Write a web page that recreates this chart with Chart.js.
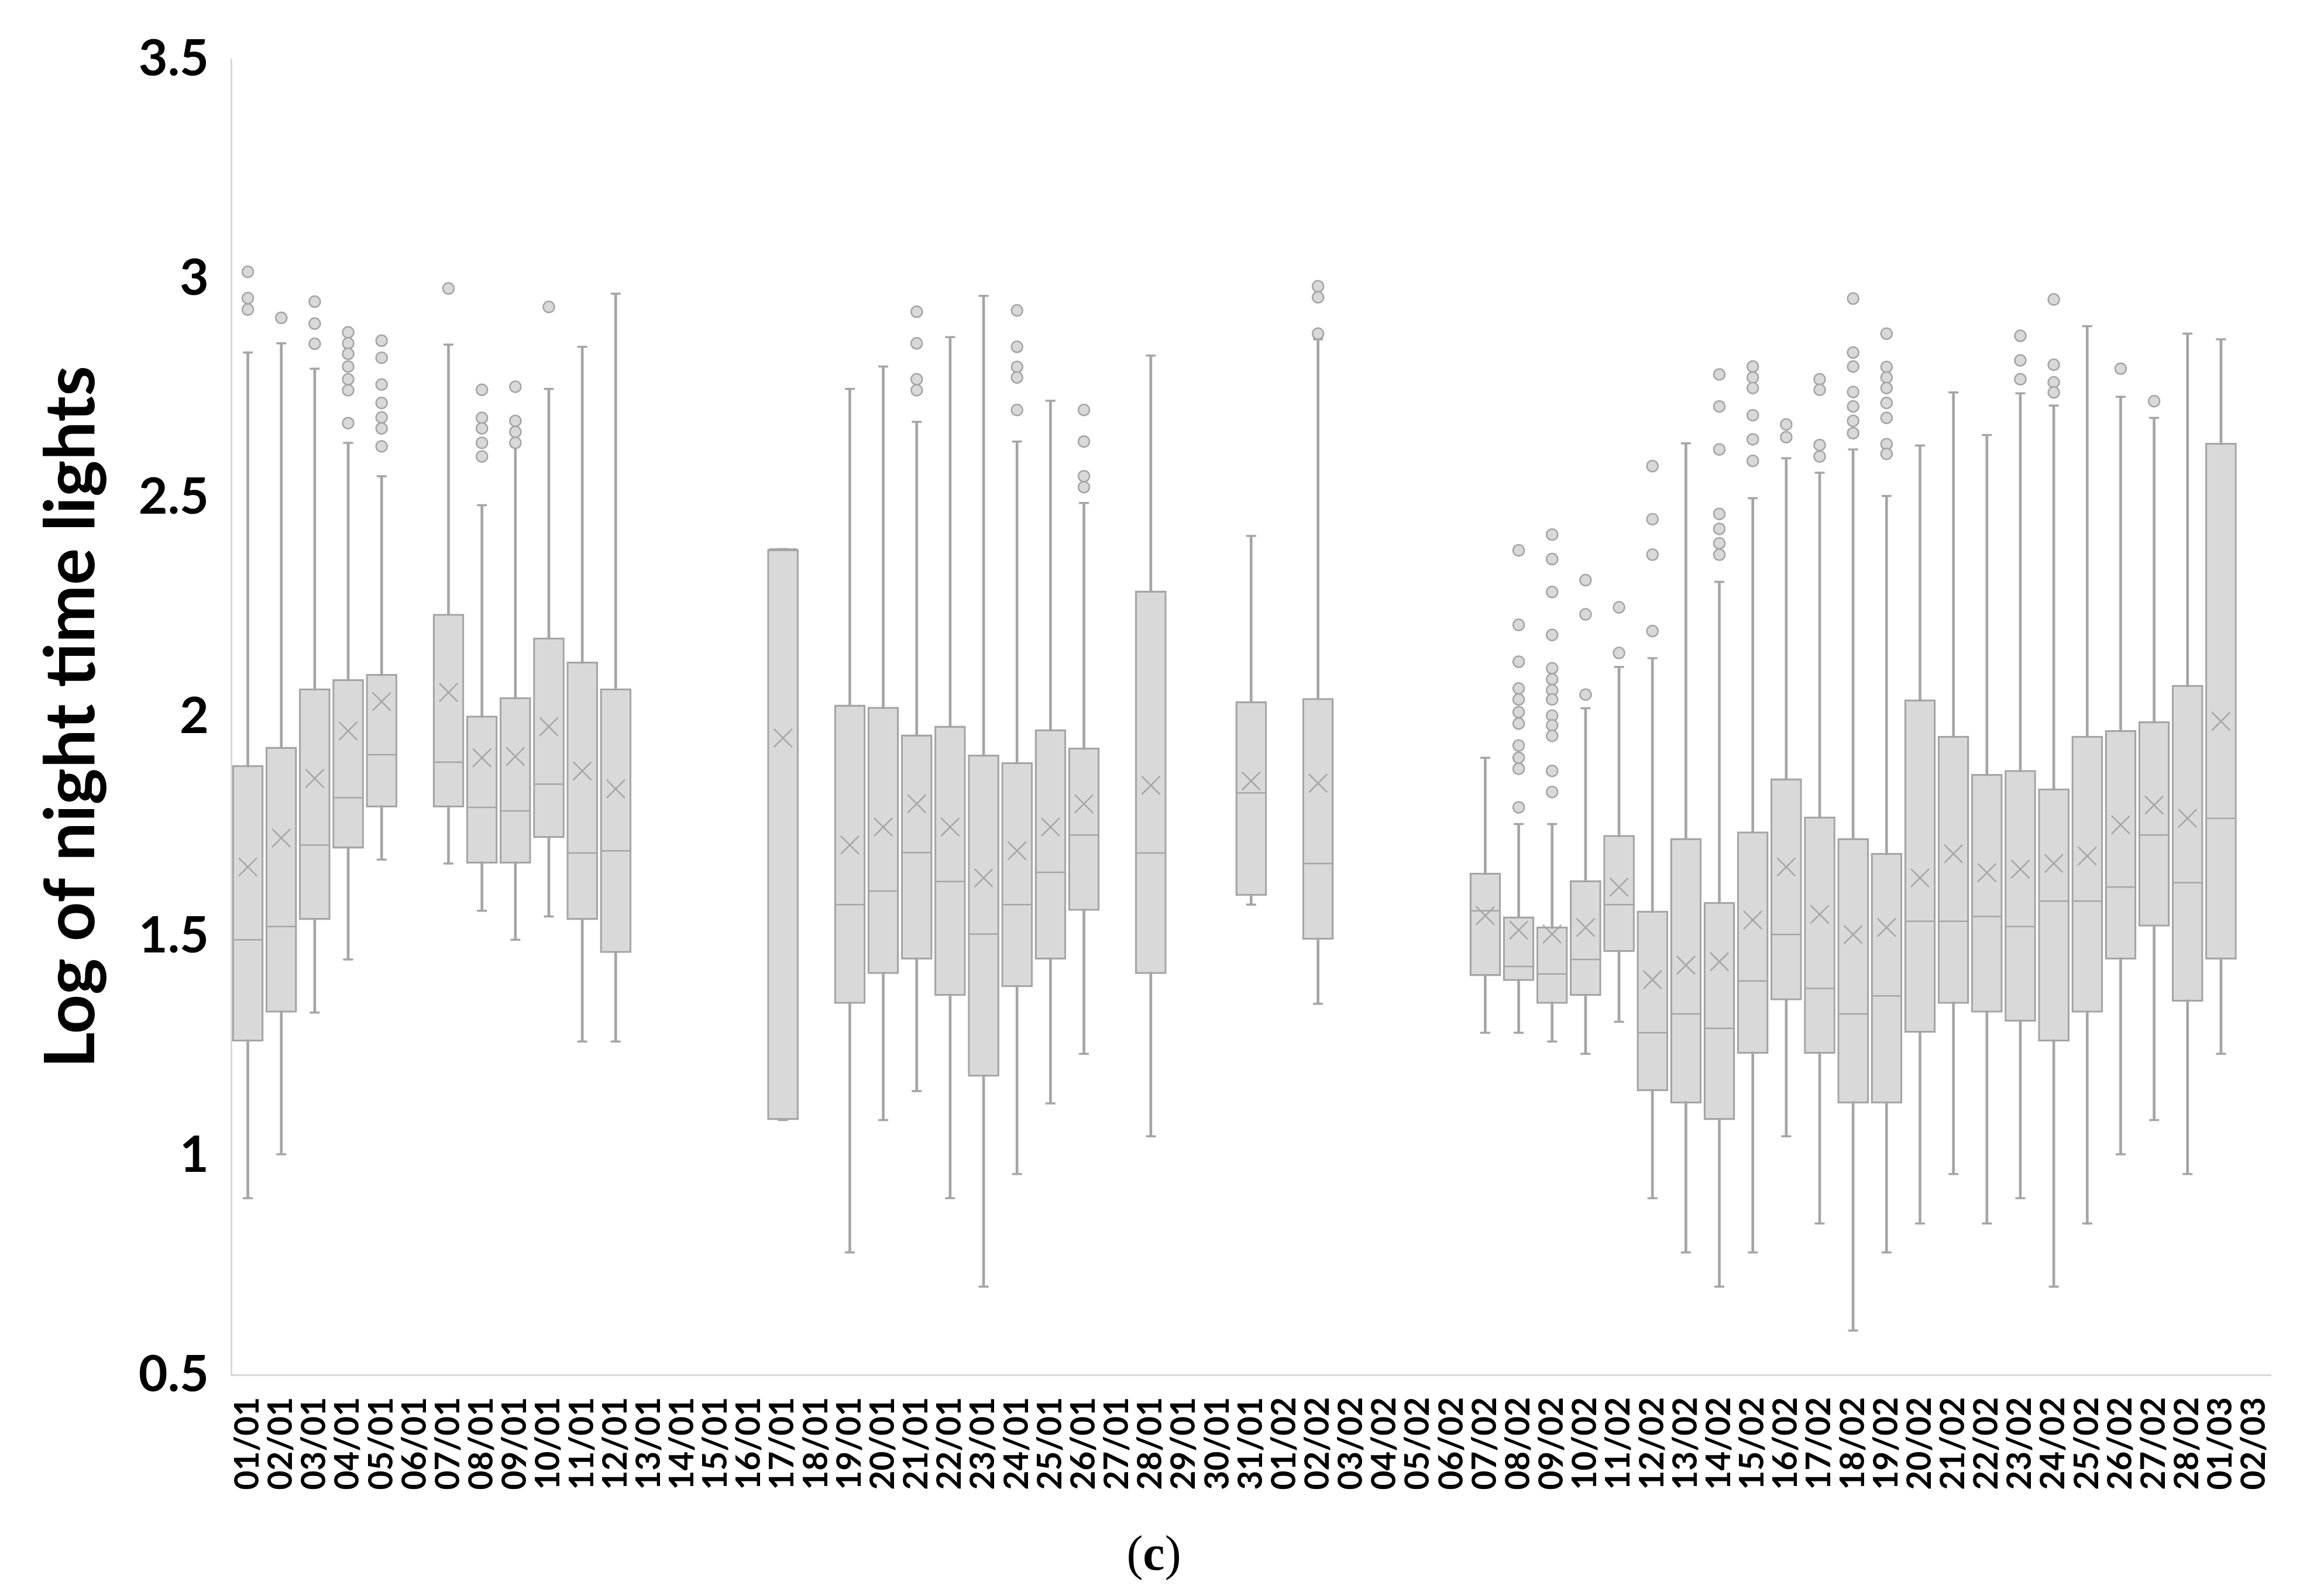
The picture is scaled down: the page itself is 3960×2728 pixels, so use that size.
<!DOCTYPE html>
<html>
<head>
<meta charset="utf-8">
<script src="https://cdn.jsdelivr.net/npm/chart.js@4.4.1/dist/chart.umd.min.js"></script>
<style>
    html, body { margin: 0; padding: 0; background: #fff; }
</style>
</head>
<body>
<canvas id="chartLuces" width="3960" height="2728"></canvas>
<script>
// dias: 01/01 .. 02/03
const dias = [
    "01/01","02/01","03/01","04/01","05/01","06/01","07/01","08/01","09/01","10/01",
    "11/01","12/01","13/01","14/01","15/01","16/01","17/01","18/01","19/01","20/01",
    "21/01","22/01","23/01","24/01","25/01","26/01","27/01","28/01","29/01","30/01",
    "31/01","01/02","02/02","03/02","04/02","05/02","06/02","07/02","08/02","09/02",
    "10/02","11/02","12/02","13/02","14/02","15/02","16/02","17/02","18/02","19/02",
    "20/02","21/02","22/02","23/02","24/02","25/02","26/02","27/02","28/02","01/03",
    "02/03"
];

const minimos = [
    0.903, 1.003, 1.326, 1.447, 1.675, null, 1.666, 1.558, 1.492, 1.545,
    1.260, 1.260, null, null, null, null, 1.081, null, 0.779, 1.081,
    1.147, 0.903, 0.701, 0.958, 1.119, 1.232, null, 1.044, null, null,
    1.572, null, 1.346, null, null, null, null, 1.280, 1.280, 1.260,
    1.232, 1.305, 0.903, 0.779, 0.701, 0.779, 1.044, 0.845, 0.601, 0.779,
    0.845, 0.958, 0.845, 0.903, 0.701, 0.845, 1.003, 1.081, 0.958, 1.232,
    null
];

const cuartil1 = [
    1.260, 1.326, 1.537, 1.700, 1.794, null, 1.794, 1.666, 1.666, 1.724,
    1.537, 1.462, null, null, null, null, 1.081, null, 1.346, 1.414,
    1.447, 1.364, 1.180, 1.384, 1.447, 1.558, null, 1.414, null, null,
    1.592, null, 1.492, null, null, null, null, 1.409, 1.398, 1.346,
    1.364, 1.464, 1.147, 1.119, 1.081, 1.232, 1.354, 1.232, 1.119, 1.119,
    1.280, 1.346, 1.326, 1.305, 1.260, 1.326, 1.447, 1.522, 1.351, 1.447,
    null
];

const medianas = [
    1.492, 1.522, 1.708, 1.816, 1.914, null, 1.897, 1.794, 1.786, 1.847,
    1.690, 1.695, null, null, null, null, 2.383, null, 1.572, 1.603,
    1.691, 1.625, 1.505, 1.572, 1.646, 1.731, null, 1.690, null, null,
    1.827, null, 1.666, null, null, null, null, 1.558, 1.431, 1.414,
    1.447, 1.572, 1.280, 1.323, 1.290, 1.398, 1.504, 1.381, 1.323, 1.364,
    1.534, 1.534, 1.545, 1.522, 1.580, 1.580, 1.612, 1.731, 1.622, 1.769,
    null
];

const cuartil3 = [
    1.890, 1.932, 2.065, 2.086, 2.098, null, 2.235, 2.003, 2.045, 2.181,
    2.126, 2.065, null, null, null, null, 2.383, null, 2.028, 2.023,
    1.960, 1.980, 1.914, 1.897, 1.972, 1.930, null, 2.288, null, null,
    2.036, null, 2.043, null, null, null, null, 1.645, 1.545, 1.522,
    1.628, 1.731, 1.558, 1.724, 1.578, 1.739, 1.860, 1.773, 1.724, 1.690,
    2.040, 1.957, 1.870, 1.879, 1.837, 1.957, 1.970, 1.990, 2.073, 2.625,
    null
];

const maximos = [
    2.831, 2.852, 2.794, 2.625, 2.549, null, 2.849, 2.483, 2.617, 2.748,
    2.844, 2.965, null, null, null, null, 2.383, null, 2.748, 2.799,
    2.673, 2.866, 2.960, 2.628, 2.721, 2.488, null, 2.824, null, null,
    2.413, null, 2.861, null, null, null, null, 1.907, 1.756, 1.756,
    2.020, 2.114, 2.134, 2.624, 2.308, 2.499, 2.590, 2.557, 2.610, 2.504,
    2.619, 2.740, 2.643, 2.738, 2.710, 2.891, 2.730, 2.682, 2.874, 2.861,
    null
];

const medias = [
    1.658, 1.724, 1.860, 1.968, 2.035, null, 2.056, 1.907, 1.910, 1.978,
    1.877, 1.836, null, null, null, null, 1.952, null, 1.708, 1.749,
    1.802, 1.749, 1.633, 1.695, 1.749, 1.802, null, 1.844, null, null,
    1.854, null, 1.849, null, null, null, null, 1.547, 1.514, 1.505,
    1.520, 1.612, 1.401, 1.434, 1.442, 1.537, 1.658, 1.550, 1.504, 1.520,
    1.633, 1.688, 1.645, 1.653, 1.666, 1.683, 1.754, 1.799, 1.769, 1.990,
    null
];

// valores atipicos por dia
const atipicos = [
    [3.015, 2.955, 2.929],
    [2.910],
    [2.947, 2.897, 2.851],
    [2.877, 2.852, 2.828, 2.799, 2.770, 2.745, 2.670],
    [2.858, 2.819, 2.758, 2.716, 2.683, 2.658, 2.617],
    [],
    [2.977],
    [2.746, 2.682, 2.658, 2.625, 2.594],
    [2.753, 2.675, 2.650, 2.625],
    [2.935],
    [], [], [], [], [], [], [], [], [], [],
    [2.924, 2.852, 2.770, 2.745],
    [], [],
    [2.927, 2.844, 2.798, 2.774, 2.700],
    [],
    [2.700, 2.628, 2.549, 2.524],
    [], [], [], [], [], [],
    [2.982, 2.957, 2.874],
    [], [], [], [], [],
    [2.380, 2.210, 2.126, 2.065, 2.040, 2.011, 1.985, 1.935, 1.907, 1.882, 1.794],
    [2.416, 2.360, 2.285, 2.187, 2.111, 2.086, 2.061, 2.040, 2.003, 1.981, 1.957, 1.877, 1.829],
    [2.312, 2.234, 2.051],
    [2.250, 2.146],
    [2.572, 2.451, 2.370, 2.196],
    [],
    [2.781, 2.708, 2.610, 2.463, 2.429, 2.396, 2.370],
    [2.799, 2.774, 2.750, 2.688, 2.633, 2.584],
    [2.667, 2.638],
    [2.770, 2.746, 2.620, 2.594],
    [2.954, 2.831, 2.799, 2.741, 2.708, 2.675, 2.647],
    [2.874, 2.798, 2.774, 2.750, 2.716, 2.682, 2.622, 2.600],
    [], [], [],
    [2.869, 2.813, 2.770],
    [2.952, 2.803, 2.763, 2.740],
    [],
    [2.794],
    [2.720],
    [], [], []
];

const ticksY = [0.5, 1, 1.5, 2, 2.5, 3, 3.5];

const GRIS_CAJA = "#d9d9d9";
const GRIS_LINEA = "#a5a5a5";

function rango(a, b) {
    return dias.map((d, i) => (a[i] == null ? null : [a[i], b[i]]));
}

function puntosAtipicos() {
    const pts = [];
    atipicos.forEach((lista, i) => {
        lista.forEach(v => pts.push({ x: dias[i], y: v }));
    });
    return pts;
}

function puntos(estilo, radio, ancho, orden, datos) {
    return {
        type: "line",
        data: datos,
        showLine: false,
        pointStyle: estilo,
        pointRadius: radio,
        pointBorderWidth: ancho,
        pointBorderColor: GRIS_LINEA,
        pointBackgroundColor: GRIS_CAJA,
        order: orden
    };
}

// texto "(c)" bajo el eje
const leyendaC = {
    id: "leyendaC",
    afterDraw(chart) {
        const ctx = chart.ctx;
        ctx.save();
        ctx.fillStyle = "#000";
        ctx.textBaseline = "alphabetic";
        ctx.textAlign = "left";
        const normal = "84px 'Liberation Serif'";
        const negrita = "bold 84px 'Liberation Serif'";
        ctx.font = normal;
        const wA = ctx.measureText("(").width;
        const wC2 = ctx.measureText(")").width;
        ctx.font = negrita;
        const wC = ctx.measureText("c").width;
        let x = 1972 - (wA + wC + wC2) / 2;
        const y = 2683;
        ctx.font = normal;
        ctx.fillText("(", x, y);
        x += wA;
        ctx.font = negrita;
        ctx.fillText("c", x, y);
        x += wC;
        ctx.font = normal;
        ctx.fillText(")", x, y);
        ctx.restore();
    }
};

const chartLuces = new Chart(document.getElementById("chartLuces"), {
    type: "bar",
    data: {
        labels: dias,
        datasets: [
            {
                label: "bigotes",
                data: rango(minimos, maximos),
                backgroundColor: GRIS_LINEA,
                borderWidth: 0,
                barThickness: 4,
                grouped: false,
                order: 10
            },
            {
                label: "cajas",
                data: rango(cuartil1, cuartil3),
                backgroundColor: GRIS_CAJA,
                borderColor: GRIS_LINEA,
                borderWidth: 3.5,
                borderSkipped: false,
                barPercentage: 0.94,
                categoryPercentage: 1,
                grouped: false,
                order: 9
            },
            puntos("line", 8.5, 3.5, 6, maximos),
            puntos("line", 8.5, 3.5, 6, minimos),
            puntos("line", 24, 2.5, 5, medianas),
            puntos("crossRot", 22, 2.5, 4, medias),
            puntos("circle", 9.5, 2.5, 3, puntosAtipicos())
        ]
    },
    options: {
        responsive: false,
        animation: false,
        events: [],
        layout: { padding: { left: 0, top: 101, right: 65, bottom: 0 } },
        plugins: {
            legend: { display: false },
            tooltip: { enabled: false }
        },
        scales: {
            x: {
                type: "category",
                offset: true,
                grid: { display: false, drawTicks: false },
                border: { display: true, color: GRIS_CAJA, width: 3 },
                ticks: {
                    autoSkip: false,
                    minRotation: 90,
                    maxRotation: 90,
                    padding: 38,
                    color: "#000",
                    font: { family: "Lato", weight: "bold", size: 57 }
                },
                afterFit: s => { s.height = 378; }
            },
            y: {
                min: 0.5,
                max: 3.5,
                grid: { display: false, drawTicks: false },
                border: { display: true, color: GRIS_CAJA, width: 3 },
                afterBuildTicks: s => { s.ticks = ticksY.map(v => ({ value: v })); },
                ticks: {
                    padding: 38,
                    color: "#000",
                    font: { family: "Lato", weight: "bold", size: 86 },
                    callback: v => String(v)
                },
                title: {
                    display: true,
                    text: "Log of night time lights",
                    color: "#000",
                    font: { family: "Lato", weight: "bold", size: 118, lineHeight: 1.2 },
                    padding: { top: 52, bottom: 0 }
                },
                afterFit: s => { s.width = 395; }
            }
        }
    },
    plugins: [leyendaC]
});
</script>
</body>
</html>
